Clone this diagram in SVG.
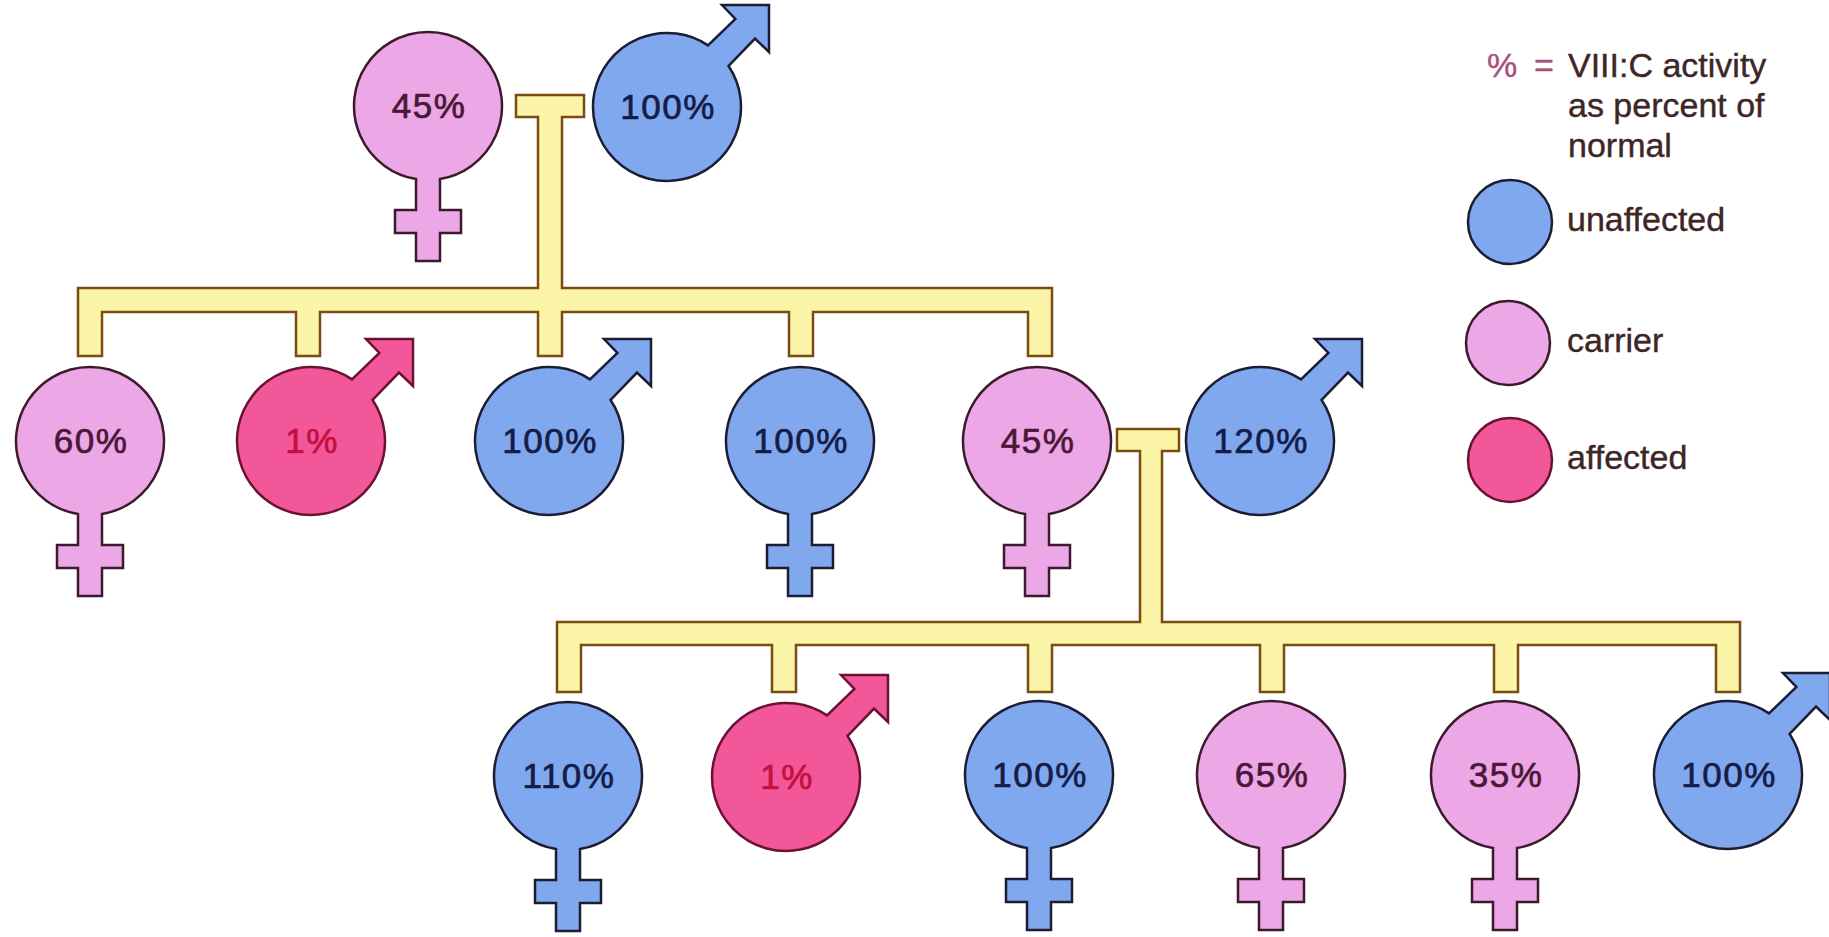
<svg xmlns="http://www.w3.org/2000/svg" xmlns:xlink="http://www.w3.org/1999/xlink" width="1829" height="937" viewBox="0 0 1829 937">
  <style>
    .bar { fill: #fcf4a6; stroke: #7a4c12; stroke-width: 2.5; stroke-linejoin: miter; }
    .unaff { fill: #80a8ee; stroke: #1c1c34; stroke-width: 2.5; stroke-linejoin: miter; }
    .carr { fill: #eca7e6; stroke: #3c1a2c; stroke-width: 2.5; stroke-linejoin: miter; }
    .aff { fill: #f2579a; stroke: #6a1232; stroke-width: 2.5; stroke-linejoin: miter; }
    .num { font-family: "Liberation Sans", Arial, sans-serif; font-size: 35px; letter-spacing: 1.5px; text-anchor: middle; stroke-width: 0.7px; }
    .n-unaff { fill: #141c48; stroke: #141c48; }
    .n-carr { fill: #4a1836; stroke: #4a1836; }
    .n-aff { fill: #c4103e; stroke: #c4103e; }
    .lg { font-family: "Liberation Sans", Arial, sans-serif; font-size: 34px; fill: #3e2626; stroke: #3e2626; stroke-width: 0.4px; }
    .lg-sym { fill: #a8507c; stroke: #a8507c; }
  </style>
  <defs>
    <!-- Venus sign: ring r=74 with stem and crossbar, origin at ring centre -->
    <path id="female" d="M 12 73.02 A 74 74 0 1 0 -12 73.02 L -12 104 L -33 104 L -33 127 L -12 127 L -12 155 L 12 155 L 12 127 L 33 127 L 33 104 L 12 104 Z"/>
    <!-- Mars sign: ring r=74 with a 45 degree arrow, origin at ring centre -->
    <path id="male" d="M 41.0 -61.6 A 74 74 0 1 0 61.6 -41.0 L 88.0 -68.4 L 102 -55 L 102 -102 L 55 -102 L 68.4 -88.0 Z"/>
  </defs>

  <rect width="1829" height="937" fill="#ffffff"/>

  <!-- pedigree lines -->
  <g id="connectors">
    <path class="bar" d="M 516 95 H 584 V 117 H 562 V 288 H 1052 V 356 H 1028 V 312 H 813 V 356 H 789 V 312 H 562 V 356 H 538 V 312 H 320 V 356 H 296 V 312 H 102 V 356 H 78 V 288 H 538 V 117 H 516 Z"/>
    <path class="bar" d="M 1117 429 H 1179 V 451 H 1162 V 622 H 1740 V 692 H 1716 V 645 H 1518 V 692 H 1494 V 645 H 1284 V 692 H 1260 V 645 H 1052 V 692 H 1028 V 645 H 796 V 692 H 772 V 645 H 581 V 692 H 557 V 622 H 1140 V 451 H 1117 Z"/>
  </g>

  <!-- generation I -->
  <g id="g1-mother">
    <use xlink:href="#female" class="carr" transform="translate(428 106)"/>
    <text class="num n-carr" x="429" y="118">45%</text>
  </g>
  <g id="g1-father">
    <use xlink:href="#male" class="unaff" transform="translate(667 107)"/>
    <text class="num n-unaff" x="668" y="119">100%</text>
  </g>

  <!-- generation II -->
  <g id="g2-daughter-60">
    <use xlink:href="#female" class="carr" transform="translate(90 441)"/>
    <text class="num n-carr" x="91" y="453">60%</text>
  </g>
  <g id="g2-son-1">
    <use xlink:href="#male" class="aff" transform="translate(311 441)"/>
    <text class="num n-aff" x="312" y="453">1%</text>
  </g>
  <g id="g2-son-100">
    <use xlink:href="#male" class="unaff" transform="translate(549 441)"/>
    <text class="num n-unaff" x="550" y="453">100%</text>
  </g>
  <g id="g2-daughter-100">
    <use xlink:href="#female" class="unaff" transform="translate(800 441)"/>
    <text class="num n-unaff" x="801" y="453">100%</text>
  </g>
  <g id="g2-daughter-45">
    <use xlink:href="#female" class="carr" transform="translate(1037 441)"/>
    <text class="num n-carr" x="1038" y="453">45%</text>
  </g>
  <g id="g2-husband-120">
    <use xlink:href="#male" class="unaff" transform="translate(1260 441)"/>
    <text class="num n-unaff" x="1261" y="453">120%</text>
  </g>

  <!-- generation III -->
  <g id="g3-daughter-110">
    <use xlink:href="#female" class="unaff" transform="translate(568 776)"/>
    <text class="num n-unaff" x="569" y="788">110%</text>
  </g>
  <g id="g3-son-1">
    <use xlink:href="#male" class="aff" transform="translate(786 777)"/>
    <text class="num n-aff" x="787" y="789">1%</text>
  </g>
  <g id="g3-daughter-100">
    <use xlink:href="#female" class="unaff" transform="translate(1039 775)"/>
    <text class="num n-unaff" x="1040" y="787">100%</text>
  </g>
  <g id="g3-daughter-65">
    <use xlink:href="#female" class="carr" transform="translate(1271 775)"/>
    <text class="num n-carr" x="1272" y="787">65%</text>
  </g>
  <g id="g3-daughter-35">
    <use xlink:href="#female" class="carr" transform="translate(1505 775)"/>
    <text class="num n-carr" x="1506" y="787">35%</text>
  </g>
  <g id="g3-son-100">
    <use xlink:href="#male" class="unaff" transform="translate(1728 775)"/>
    <text class="num n-unaff" x="1729" y="787">100%</text>
  </g>

  <!-- key -->
  <g id="legend">
    <text class="lg" y="77"><tspan class="lg-sym" x="1487">%</tspan><tspan class="lg-sym" x="1534">=</tspan><tspan x="1568">VIII:C activity</tspan></text>
    <text class="lg" x="1568" y="117">as percent of</text>
    <text class="lg" x="1568" y="157">normal</text>
    <circle class="unaff" cx="1510" cy="222" r="42"/>
    <text class="lg" x="1567" y="231">unaffected</text>
    <circle class="carr" cx="1508" cy="343" r="42"/>
    <text class="lg" x="1567" y="352">carrier</text>
    <circle class="aff" cx="1510" cy="460" r="42"/>
    <text class="lg" x="1567" y="469">affected</text>
  </g>
</svg>
